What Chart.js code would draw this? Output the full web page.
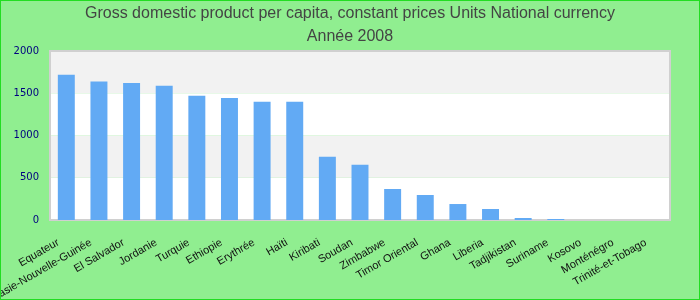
<!DOCTYPE html>
<html>
<head>
<meta charset="utf-8">
<script src="https://cdn.jsdelivr.net/npm/chart.js@4"></script>
<style>
    body { margin: 0; background: #90ee90; }
    #wrap { width: 700px; height: 300px; box-sizing: border-box; border: 1px solid #22dd22; }
</style>
</head>
<body>
<div id="wrap"><canvas id="chart" width="698" height="298"></canvas></div>
<script>
const countries = [
    "Equateur", "Papouasie-Nouvelle-Guinée", "El Salvador", "Jordanie", "Turquie",
    "Ethiopie", "Erythrée", "Haïti", "Kiribati", "Soudan", "Zimbabwe",
    "Timor Oriental", "Ghana", "Liberia", "Tadjikistan", "Suriname",
    "Kosovo", "Monténégro", "Trinité-et-Tobago",
];
const gdp = [
    1720, 1640, 1620, 1590, 1470, 1445, 1400, 1400, 750, 655, 367,
    296, 189, 130, 24, 12, 0, 0, 0,
];
const titleLines = [
    "Gross domestic product per capita, constant prices Units National currency",
    "Année 2008",
];

// alternating bands behind the bars
const bands = {
    id: "bands",
    beforeDraw(chart) {
        const { ctx, chartArea: a, scales: { y } } = chart;
        ctx.save();
        for (let v = 0; v < 2000; v += 500) {
            ctx.fillStyle = (v / 500) % 2 ? "#f2f2f2" : "#ffffff";
            const top = y.getPixelForValue(v + 500);
            const bot = y.getPixelForValue(v);
            ctx.fillRect(a.left, top, a.right - a.left, bot - top);
        }
        ctx.strokeStyle = "#d0d0d0";
        ctx.lineWidth = 2;
        ctx.strokeRect(a.left, a.top, a.right - a.left, a.bottom - a.top);
        ctx.restore();
    },
};

new Chart(document.getElementById("chart"), {
    type: "bar",
    data: {
        labels: countries,
        datasets: [{
            data: gdp,
            backgroundColor: "#62aaf4",
            barPercentage: 0.52,
            categoryPercentage: 1,
        }],
    },
    options: {
        responsive: false,
        animation: false,
        devicePixelRatio: 1,
        plugins: {
            legend: { display: false },
            tooltip: { enabled: false },
            title: {
                display: true,
                text: titleLines,
                color: "#444444",
                font: { family: "'Liberation Sans', Arial, sans-serif", size: 16, weight: "normal", lineHeight: 1.45 },
                padding: { top: 0.5, bottom: 3.1 },
            },
        },
        scales: {
            x: {
                grid: { display: false, drawTicks: false },
                border: { display: false },
                ticks: {
                    color: "#111111",
                    font: { family: "'Liberation Sans', Arial, sans-serif", size: 11 },
                    minRotation: 30,
                    maxRotation: 30,
                    autoSkip: false,
                    padding: 16,
                    labelOffset: -8,
                },
                afterFit(scale) { scale.height = 79; },
            },
            y: {
                min: 0,
                max: 2000,
                grid: { display: false, drawTicks: false },
                border: { display: false },
                ticks: {
                    stepSize: 500,
                    color: "#000080",
                    font: { family: "'DejaVu Sans'", size: 10 },
                    padding: 11,
                    callback: (v) => String(v),
                },
                afterFit(scale) { scale.width = 49; },
            },
            // empty right axis, only keeps the right margin so the title stays centred on the page
            y2: {
                position: "right",
                min: 0,
                max: 2000,
                grid: { display: false, drawTicks: false },
                border: { display: false },
                ticks: { display: false },
                afterFit(scale) { scale.width = 29; },
            },
        },
    },
    plugins: [bands],
});
</script>
</body>
</html>
